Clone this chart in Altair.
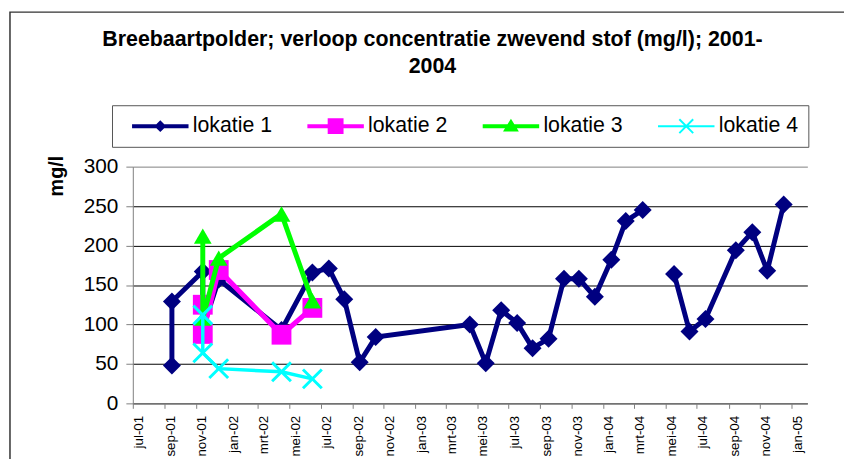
import altair as alt
import pandas as pd

SERIES = ["lokatie 1", "lokatie 2", "lokatie 3", "lokatie 4"]
COLORS = ["#000080", "#FF00FF", "#00FF00", "#00FFFF"]
MONTHS_NL = ["jan", "feb", "mrt", "apr", "mei", "jun", "jul", "aug", "sep", "okt", "nov", "dec"]
Y_TICKS = [0, 50, 100, 150, 200, 250, 300]
TITLE_LINES = ["Breebaartpolder; verloop concentratie zwevend stof (mg/l); 2001-", "2004"]
Y_TITLE = "mg/l"

LOK1_DATES = ["2001-09-15", "2001-09-15", "2001-11-14", "2001-11-14", "2001-12-15",
              "2002-04-16", "2002-06-15", "2002-07-17", "2002-08-16", "2002-09-15", "2002-10-16",
              "2003-04-17", "2003-05-18", "2003-06-17", "2003-07-18", "2003-08-17", "2003-09-17",
              "2003-10-17", "2003-11-15", "2003-12-16", "2004-01-17", "2004-02-14", "2004-03-18",
              "2004-05-18", "2004-06-17", "2004-07-18", "2004-09-15", "2004-10-17", "2004-11-15",
              "2004-12-17"]
LOK1_VALUES = [48, 129, 167, 95, 157, 93, 166, 171, 132, 52, 84,
               100, 51, 118, 102, 70, 82, 158, 158, 135, 182, 231, 245,
               164, 91, 107, 194, 217, 168, 252]
LOK1_SEGMENT = [0] * 23 + [1] * 7

LOK2_DATES = ["2001-11-14", "2001-11-14", "2001-12-15", "2002-04-16", "2002-06-15"]
LOK2_VALUES = [125, 88, 169, 87, 121]

LOK3_DATES = ["2001-11-14", "2001-11-14", "2001-12-15", "2002-04-16", "2002-06-15"]
LOK3_VALUES = [212, 108, 184, 240, 130]

LOK4_DATES = ["2001-11-14", "2001-11-14", "2001-12-15", "2002-04-16", "2002-06-15"]
LOK4_VALUES = [112, 64, 44, 40, 31]

rows = []
for name, dates, vals, segs in [
    (SERIES[0], LOK1_DATES, LOK1_VALUES, LOK1_SEGMENT),
    (SERIES[1], LOK2_DATES, LOK2_VALUES, [0] * len(LOK2_VALUES)),
    (SERIES[2], LOK3_DATES, LOK3_VALUES, [0] * len(LOK3_VALUES)),
    (SERIES[3], LOK4_DATES, LOK4_VALUES, [0] * len(LOK4_VALUES)),
]:
    for i, (d, v, s) in enumerate(zip(dates, vals, segs)):
        rows.append({"series": name, "date": d, "value": v, "seg": s, "idx": i})
df = pd.DataFrame(rows)

FONT = "Liberation Sans"
W, H = 681, 239

month_expr = "[" + ",".join("'%s'" % m for m in MONTHS_NL) + "][utcmonth(datum.value)] + '-' + utcFormat(datum.value, '%y')"

x_enc = alt.X(
    "date:T",
    title=None,
    scale=alt.Scale(type="utc", nice=False,
                    domain=[alt.DateTime(year=2001, month=7, date=1, utc=True),
                            alt.DateTime(year=2005, month=2, date=1, utc=True)]),
    axis=alt.Axis(tickCount={"interval": "month", "step": 2}, labelExpr=month_expr,
                  labelAngle=270, labelAlign="right", labelBaseline="middle",
                  labelFont=FONT, labelFontSize=13.5, labelColor="black",
                  labelPadding=7, labelOffset=6, labelOverlap=False, labelFlush=False,
                  tickSize=5, tickColor="#808080", domainColor="#808080", domainWidth=1,
                  grid=False),
)
y_enc = alt.Y(
    "value:Q",
    title=Y_TITLE,
    scale=alt.Scale(domain=[0, 300], nice=False),
    axis=alt.Axis(values=Y_TICKS, labelFont=FONT, labelFontSize=21, labelColor="black",
                  labelPadding=8, labelFlush=False, tickSize=7, tickColor="#808080",
                  domainColor="#808080", domainWidth=1, grid=True,
                  gridColor=alt.condition("datum.value == 300", alt.value("#808080"), alt.value("#000000")),
                  gridWidth=1,
                  titleFont=FONT, titleFontSize=20, titleFontWeight="bold", titleColor="black",
                  titleAngle=270, titleAlign="center", titleBaseline="middle",
                  titleX=-77, titleY=9),
)
# data-driven domain (sorted series names) for the line/marker colours
color_enc = alt.Color("series:N", scale=alt.Scale(range=COLORS), legend=None)

X_PATH = "M-1,-1L1,1M-1,1L1,-1"
MARK_SHAPES = ["diamond", "square", "triangle-up", X_PATH]
MARK_SIZES = [330, 400, 320, 361]
MARK_FILLED = [True, True, True, False]
LINE_WIDTHS = [5, 5, 5, 3.5]

layers = []
frame = alt.Chart(pd.DataFrame({"a": [0]})).mark_rect(
    fillOpacity=0, stroke="#333333", strokeWidth=1.5).encode(
    x=alt.value(-124), x2=alt.value(760), y=alt.value(-156), y2=alt.value(340))
layers.append(frame)

for k, name in enumerate(SERIES):
    sub = alt.Chart(df).transform_filter(alt.datum.series == name)
    line = sub.mark_line(strokeWidth=LINE_WIDTHS[k], strokeJoin="miter").encode(
        x=x_enc, y=y_enc, color=color_enc, detail="seg:N", order=alt.Order("idx:Q"))
    if MARK_FILLED[k]:
        pt = sub.mark_point(shape=MARK_SHAPES[k], size=MARK_SIZES[k], filled=True, opacity=1)
    else:
        pt = sub.mark_point(shape=MARK_SHAPES[k], size=MARK_SIZES[k], filled=False,
                            strokeWidth=3, opacity=1)
    pt = pt.encode(x=x_enc, y=y_enc, color=color_enc)
    layers += [line, pt]

RECT_THICK = "M-2.85,-0.2L2.85,-0.2L2.85,0.2L-2.85,0.2Z"
RECT_THIN = "M-2.85,-0.1L2.85,-0.1L2.85,0.1L-2.85,0.1Z"
LEGEND_PATHS = [
    RECT_THICK + "M-0.6,0L0,-0.6L0.6,0L0,0.6Z",
    RECT_THICK + "M-0.8,-0.8L0.8,-0.8L0.8,0.8L-0.8,0.8Z",
    RECT_THICK + "M0,-0.75L0.8,0.55L-0.8,0.55Z",
    RECT_THIN + "M-0.63,-0.77L0.77,0.63L0.63,0.77L-0.77,-0.63ZM-0.63,0.77L-0.77,0.63L0.63,-0.77L0.77,-0.63Z",
]
leg = alt.Legend(title=None, orient="none", legendX=-21, legendY=-62, direction="horizontal",
                 columns=4, padding=10, strokeColor="#555555", fillColor="white",
                 symbolSize=400, symbolOffset=28, labelOffset=22, columnPadding=25,
                 symbolStrokeWidth=0, symbolOpacity=1,
                 labelFont=FONT, labelFontSize=21.5, labelColor="black",
                 labelExpr="datum.label + '\u00a0 '")
legend_df = pd.DataFrame({"series": SERIES, "date": ["2003-01-01"] * 4, "value": [-1000] * 4})
legend_layer = alt.Chart(legend_df).mark_point(filled=True, opacity=1, strokeWidth=0, clip=True).encode(
    x=x_enc, y=y_enc,
    fill=alt.Fill("series:N", scale=alt.Scale(domain=SERIES, range=COLORS), legend=leg),
    shape=alt.Shape("series:N", scale=alt.Scale(domain=SERIES, range=LEGEND_PATHS), legend=leg),
)
layers.append(legend_layer)

chart = alt.layer(*layers).properties(
    width=W, height=H,
    title=alt.TitleParams(text=TITLE_LINES, font=FONT, fontSize=21.6, fontWeight="bold",
                          color="black", anchor="middle", frame="group", baseline="top",
                          lineHeight=27, offset=-67, dx=-38),
    autosize=alt.AutoSizeParams(type="none"),
    padding={"left": 126, "top": 158, "right": 37, "bottom": 54},
    background="white",
).configure_view(strokeWidth=0)

chart.save("out.html", embed_options={"renderer": "svg", "actions": False})
